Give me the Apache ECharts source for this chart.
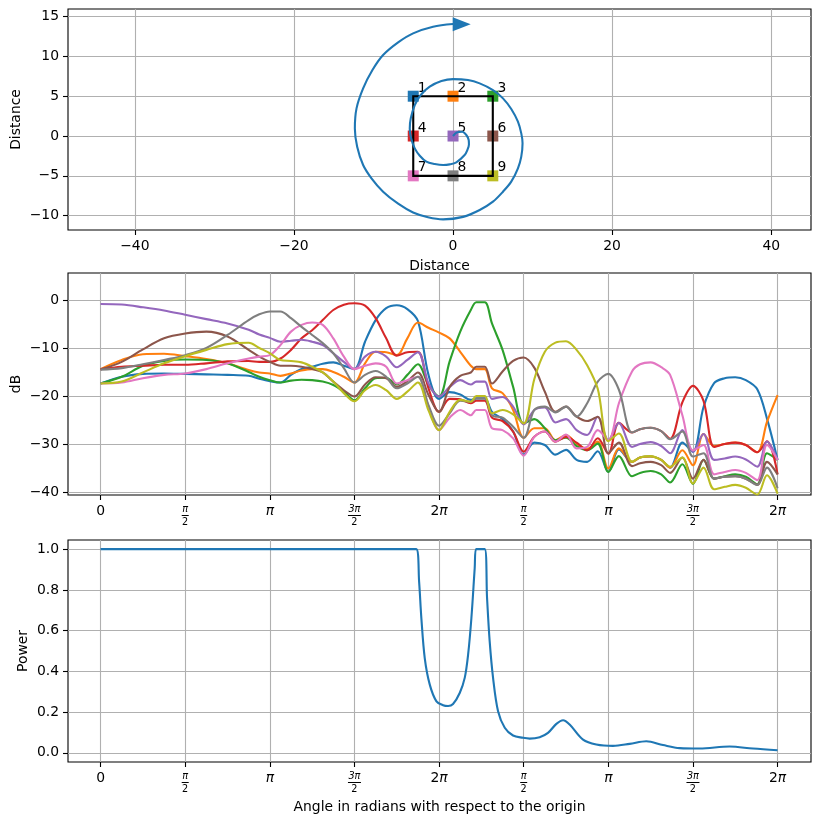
<!DOCTYPE html>
<html><head><meta charset="utf-8">
<style>html,body{margin:0;padding:0;background:#fff}#c{width:823px;height:822px}</style>
<script src="https://cdn.jsdelivr.net/npm/echarts@6/dist/echarts.min.js"></script>
</head><body><div id="c"></div>
<script>
const colors = ['#1f77b4','#ff7f0e','#2ca02c','#d62728','#9467bd','#8c564b','#e377c2','#7f7f7f','#bcbd22'];
const speakerLabels = ['1','2','3','4','5','6','7','8','9'];
const speakerX = [-5,0,5,-5,0,5,-5,0,5];
const speakerY = [5,5,5,0,0,0,-5,-5,-5];
const boxX = [-5,5,5,-5,-5];
const boxY = [5,5,-5,-5,5];
const spiralX = [0,0.5,1.17,1.67,1.97,2,1.8,1.46,0.42,-0.42,-1.25,-2.3,-3.35,-4.18,-4.81,-5.27,-5.44,-5.31,-4.81,-4.06,-2.93,-1.46,0,1.88,3.35,5.02,6.28,7.32,8.16,8.58,8.74,8.58,8.16,7.32,6.28,5.02,3.35,1.26,-1.25,-3.14,-5.02,-6.9,-8.79,-10.25,-11.3,-12.05,-12.34,-12.13,-11.3,-10.13,-8.79,-6.9,-5.02,-2.51,0];
const spiralY = [0,0.46,0.54,0.13,-0.5,-1.05,-1.76,-2.38,-3.3,-3.56,-3.64,-3.51,-3.22,-2.47,-1.55,-0.29,0.96,2.22,3.89,5.15,6.19,6.9,7.15,7.03,6.61,5.77,4.73,3.39,1.8,0.33,-0.92,-2.59,-4.06,-5.73,-6.99,-8.24,-9.29,-10.15,-10.46,-10.2,-9.6,-8.5,-6.99,-5.31,-3.64,-1.34,0.96,3.47,5.98,8.28,10.17,11.76,12.89,13.72,14.06];
const arrowX = [1.09];
const arrowY = [14.05];

// Angle in units of a quarter turn (pi/2); the axis runs over two full turns.
const angles = [0,.25,.5,.75,1,1.25,1.5,1.75,1.875,
 2,2.125,2.25,2.375,2.5,2.625,2.75,2.875,3,3.125,3.25,3.375,3.5,3.625,3.75,3.875,
 4,4.125,4.25,4.375,4.44,4.54,4.625,4.75,4.875,5,5.125,5.25,5.375,5.5,5.625,5.75,5.875,
 6,6.125,6.28,6.375,6.5,6.625,6.73,6.875,7,7.125,7.25,7.375,7.5,7.625,7.76,7.875,8];
const db1 = [-17.4,-16,-15.4,-15.3,-15.4,-15.5,-15.6,-15.8,-16.4,
 -16.9,-17.2,-15.6,-14.4,-13.9,-13.3,-13,-13.7,-14.4,-8.7,-4.2,-1.7,-1.1,-1.9,-4.4,-15.6,
 -20.6,-19.2,-19.7,-20.8,-20.5,-20.5,-23.3,-24.8,-27.4,-32.2,-29.7,-30.2,-32.2,-31.2,-33.3,-33.7,-31.5,
 -35.8,-31.1,-33.7,-32.8,-32.6,-33.3,-34.9,-29.7,-31.6,-22.3,-17.3,-16.3,-16.1,-16.7,-18.6,-24.7,-33.3];
const db2 = [-14.4,-12.5,-11.3,-11.2,-11.7,-12.3,-13.2,-14.6,-15.1,
 -15.3,-15.8,-15.3,-14.7,-14.4,-14.4,-15,-16,-17.2,-13.2,-10.8,-10.9,-11.5,-8,-4.7,-5.8,
 -6.8,-8,-10.8,-13.7,-14.4,-14.4,-18.4,-19.4,-22.9,-28.7,-26.7,-26.7,-29.2,-28.1,-29.9,-31,-29.5,
 -35.1,-30.9,-33.7,-32.8,-32.6,-33.3,-34.9,-31.3,-34.4,-27.9,-30.4,-30,-29.7,-30.2,-31.7,-25.4,-19.8];
const db3 = [-17.4,-16,-13.7,-12.7,-12.4,-12.5,-13.2,-15,-16,
 -16.7,-17.2,-16.8,-16.6,-16.7,-17,-17.7,-19.1,-20.9,-18.4,-16.3,-16.2,-17.6,-15.6,-13.4,-17.7,
 -20.1,-12.8,-6.6,-2.1,-0.5,-0.5,-4.9,-10.4,-18.1,-25.7,-24.8,-26.7,-29.2,-28.7,-30.4,-31.3,-29.9,
 -35.8,-32.5,-36.7,-36,-35.6,-36.3,-38,-34.2,-38.3,-33.3,-37.2,-36.7,-36.3,-36.8,-38.4,-31.9,-33.3];
const db4 = [-14.4,-13.9,-13.7,-13.5,-13.5,-13.2,-12.8,-12.7,-12.9,
 -12.9,-12.2,-10.4,-8,-6.3,-4.2,-2.1,-1,-0.7,-1.2,-3.8,-8,-11.6,-10.9,-10.8,-18.4,
 -23.3,-20.6,-20.7,-21.5,-21,-21,-24.5,-25.2,-27.4,-31.6,-28.5,-27.4,-29.5,-28.5,-29.7,-31.3,-28.8,
 -32,-25.6,-27.6,-26.9,-26.6,-27.3,-28.9,-21.3,-17.9,-21,-30.6,-30,-29.7,-30.2,-31.7,-29.4,-36.3];
const db5 = [-0.85,-0.97,-1.53,-2.2,-3.1,-4,-4.9,-6.2,-7.2,
 -7.9,-8.7,-8.5,-8.3,-8.7,-9.4,-11.1,-12.9,-14.4,-11.8,-10.8,-11.8,-14,-12.5,-10.9,-17.4,
 -20.1,-18.1,-16.7,-17.6,-17,-17,-20.6,-20.2,-22.2,-25.9,-22.9,-22.4,-25.5,-24.8,-27.1,-28.1,-24.3,
 -29.2,-25.6,-30.6,-30,-29.6,-30.4,-31.9,-27.1,-31.6,-27.9,-33.3,-33,-32.6,-33.2,-34.7,-29.5,-33.3];
const db6 = [-14.5,-12.9,-10.3,-8,-7,-6.6,-7.6,-10.4,-11.8,
 -12.9,-13.7,-13.7,-13.9,-14.4,-15.1,-17,-18.8,-20.1,-17.6,-16.1,-16.3,-18.1,-16.9,-15.1,-19.8,
 -23.3,-18.1,-15.8,-15.1,-13.9,-13.9,-17.4,-14.9,-12.7,-12,-14.1,-19.1,-23.3,-22.2,-24.3,-25.2,-24.3,
 -31.9,-29.7,-34.6,-34,-33.7,-34.4,-36,-32.8,-37.2,-33.3,-37.2,-36.8,-36.7,-37.2,-38.5,-33.7,-36.3];
const db7 = [-17.4,-17.2,-16.3,-15.6,-15.3,-14.4,-13.2,-12.2,-11.8,
 -11.5,-9.4,-6.6,-5.2,-4.7,-5.2,-8,-11.8,-14.4,-13.7,-13.2,-13.9,-17.4,-16.7,-16,-22.2,
 -27.1,-24.5,-22.9,-24,-22.9,-22.9,-26.7,-27.1,-28.8,-32.4,-28.5,-27.4,-29.5,-28,-30.9,-30.6,-27.1,
 -29.2,-21.5,-14.9,-13.4,-13,-14,-15.6,-24,-31.3,-30.2,-36.3,-35.8,-35.4,-36,-37.5,-30.2,-33.3];
const db8 = [-14.5,-14.2,-13.4,-12.5,-11.5,-10,-7.3,-4.2,-3,
 -2.4,-2.4,-3.8,-5.6,-7.3,-9,-11.1,-14.2,-17.2,-15.6,-14.8,-16,-18.4,-17.4,-16,-21.9,
 -26.2,-23.6,-21,-21.2,-20.5,-20.5,-24,-24.5,-26.4,-28.7,-22.9,-22.2,-23.4,-22.2,-24.3,-21.5,-17,
 -15.4,-18.7,-27.6,-26.9,-26.6,-27.3,-29,-27.4,-32.6,-31.9,-37.2,-36.8,-36.7,-37.2,-38.5,-34.9,-39.2];
const db9 = [-17.4,-17,-15.1,-13.2,-11.7,-10.4,-9.2,-8.9,-10,
 -11.1,-12.5,-12.7,-13,-13.9,-15.1,-17,-19.4,-21.1,-18.8,-17.7,-18.8,-20.6,-19.1,-17.2,-23,
 -27.1,-23.3,-20.8,-21.2,-20,-20,-23.6,-22.9,-23.8,-25.7,-16.5,-10.8,-8.9,-8.6,-10.4,-13.6,-18.5,
 -29.4,-27.8,-33.7,-32.8,-32.5,-33.3,-34.7,-32.8,-38.2,-34.9,-39.4,-38.9,-38.5,-39.1,-40.5,-36.5,-40.3];
const dbSeries = [db1,db2,db3,db4,db5,db6,db7,db8,db9];

const powerAngles = [0,1,2,3,3.73,3.764,3.791,3.831,3.89,3.969,4.047,4.106,4.165,4.244,4.303,4.343,4.382,4.421,4.437,4.539,4.567,4.598,4.638,4.697,4.776,4.874,4.992,5.071,5.189,5.287,5.386,5.465,5.543,5.701,5.858,6.055,6.252,6.449,6.646,6.843,7.079,7.433,7.709,8];
const powerValues = [1,1,1,1,1,.841,.659,.464,.335,.253,.234,.230,.240,.294,.368,.482,.662,.907,1,1,.760,.547,.368,.204,.123,.085,.074,.070,.077,.098,.142,.160,.139,.065,.041,.034,.044,.057,.038,.023,.021,.031,.021,.013];

const angleTicks = [0,1,2,3,4,5,6,7,8];
const angleTickLabels = ['{r|0}','{n|π}\n{l| }\n{d|2}','{i|π}','{n|3π}\n{l2| }\n{d|2}','{r|2}{i|π}','{n|π}\n{l| }\n{d|2}','{i|π}','{n|3π}\n{l2| }\n{d|2}','{r|2}{i|π}'];
const distXTicks = [-40,-20,0,20,40];
const distYTicks = [-10,-5,0,5,10,15];
const dbTicks = [-40,-30,-20,-10,0];
const powerTicks = [0,0.2,0.4,0.6,0.8,1];

const FONT = 'DejaVu Sans';
const FS = 13.9;
const SMOOTH = 0.33;
const minus = v => String(v).replace('-', '\u2212');
const gridLine = {show:true, lineStyle:{color:'#b0b0b0', width:1.1}};
const tick = {show:true, length:5, inside:false, lineStyle:{color:'#000', width:1.1}};
const line0 = {show:false, onZero:false};

function xAxisBase(i, ticks, extra){
  return Object.assign({type:'value', gridIndex:i, position:'bottom', axisLine:line0, splitLine:gridLine,
    axisTick:Object.assign({customValues:ticks}, tick),
    axisLabel:{customValues:ticks, color:'#000', fontFamily:FONT, fontSize:FS, margin:9, formatter:minus},
    nameLocation:'middle', nameTextStyle:{color:'#000', fontFamily:FONT, fontSize:FS}}, extra);
}
function yAxisBase(i, ticks, extra, fmt){
  return Object.assign({type:'value', gridIndex:i, position:'left', axisLine:line0, splitLine:gridLine,
    axisTick:Object.assign({customValues:ticks}, tick),
    axisLabel:{customValues:ticks, color:'#000', fontFamily:FONT, fontSize:FS, margin:9, padding:[2,0,0,0], formatter:fmt||minus},
    nameLocation:'middle', nameMoveOverlap:false, nameTextStyle:{color:'#000', fontFamily:FONT, fontSize:FS}}, extra);
}
const angleLabel = {
  customValues:angleTicks, color:'#000', margin:9, verticalAlign:'top', lineHeight:16,
  formatter:v => angleTickLabels[Math.round(v)],
  rich:{
    r:{fontFamily:FONT, fontSize:FS, color:'#000', lineHeight:16, verticalAlign:'top'},
    i:{fontFamily:FONT, fontSize:FS, fontStyle:'italic', color:'#000', lineHeight:16, verticalAlign:'top'},
    n:{fontFamily:FONT, fontSize:9.7, fontStyle:'italic', color:'#000', lineHeight:10, align:'center'},
    d:{fontFamily:FONT, fontSize:9.7, color:'#000', lineHeight:10, align:'center'},
    l:{width:7, height:1, lineHeight:3, backgroundColor:'#000', fontSize:1, align:'center'},
    l2:{width:13, height:1, lineHeight:3, backgroundColor:'#000', fontSize:1, align:'center'}
  }
};
function angleAxis(i, extra){
  const a = xAxisBase(i, angleTicks, Object.assign({min:-0.385, max:8.395}, extra));
  a.axisLabel = angleLabel;
  return a;
}

const series = [];
speakerX.forEach((x,i)=>series.push({
  type:'scatter', xAxisIndex:0, yAxisIndex:0, data:[[x,speakerY[i]]],
  symbol:'rect', symbolSize:11, itemStyle:{color:colors[i], opacity:1}, z:3, silent:true,
  label:{show:true, position:'inside', offset:[9,-8], formatter:speakerLabels[i], color:'#000', fontFamily:FONT, fontSize:FS}
}));
series.push({type:'line', xAxisIndex:0, yAxisIndex:0, data:boxX.map((x,i)=>[x,boxY[i]]), showSymbol:false,
  lineStyle:{color:'#000', width:2.1, cap:'square', join:'miter'}, z:4, silent:true});
series.push({type:'line', xAxisIndex:0, yAxisIndex:0, data:spiralX.map((x,i)=>[x,spiralY[i]]), showSymbol:false, smooth:SMOOTH,
  lineStyle:{color:colors[0], width:2.1}, z:5, silent:true});
series.push({type:'scatter', xAxisIndex:0, yAxisIndex:0, data:arrowX.map((x,i)=>[x,arrowY[i]]), symbol:'triangle',
  symbolSize:[14,18], symbolRotate:-90, itemStyle:{color:colors[0], opacity:1}, z:5, silent:true});
dbSeries.forEach((vals,i)=>series.push({type:'line', xAxisIndex:1, yAxisIndex:1,
  data:angles.map((a,j)=>[a,vals[j]]), showSymbol:false, smooth:SMOOTH,
  lineStyle:{color:colors[i], width:2.1}, z:3+i, silent:true}));
series.push({type:'line', xAxisIndex:2, yAxisIndex:2, data:powerAngles.map((a,i)=>[a,powerValues[i]]),
  showSymbol:false, smooth:SMOOTH, lineStyle:{color:colors[0], width:2.1}, z:3, silent:true});

const gridCommon = {left:68, width:743, show:true, borderColor:'#000', borderWidth:1.1, backgroundColor:'transparent', containLabel:false, outerBoundsMode:'none'};
const chart = echarts.init(document.getElementById('c'), null, {renderer:'canvas'});
chart.setOption({
  animation:false, backgroundColor:'#fff',
  grid:[Object.assign({top:9,height:221},gridCommon), Object.assign({top:273,height:222},gridCommon), Object.assign({top:540,height:222},gridCommon)],
  xAxis:[
    xAxisBase(0, distXTicks, {min:-48.4, max:45, name:'Distance', nameGap:29}),
    angleAxis(1, {}),
    angleAxis(2, {name:'Angle in radians with respect to the origin', nameGap:38})
  ],
  yAxis:[
    yAxisBase(0, distYTicks, {min:-11.8, max:15.95, name:'Distance', nameGap:45}),
    yAxisBase(1, dbTicks, {min:-40.6, max:5.6, name:'dB', nameGap:45}),
    yAxisBase(2, powerTicks, {min:-0.045, max:1.045, name:'Power', nameGap:38}, v=>v.toFixed(1))
  ],
  series
});
</script></body></html>
